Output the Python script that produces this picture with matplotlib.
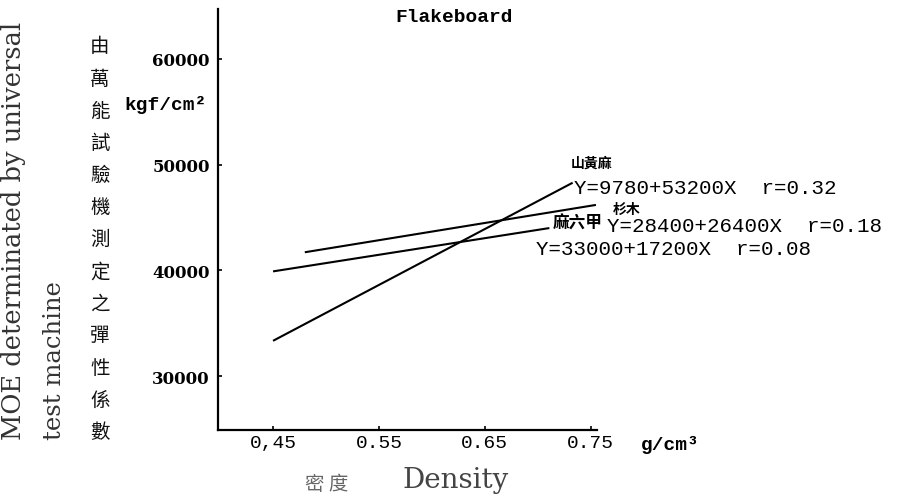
import matplotlib
matplotlib.use("Agg")
import matplotlib.pyplot as plt

plt.rcParams['font.family'] = ['DejaVu Serif', 'Noto Sans CJK TC']

# regression lines, end points (density g/cm3, MOE kgf/cm2)
species = ["山黃麻", "杉木", "麻六甲"]
equations = ["Y=9780+53200X  r=0.32",
             "Y=33000+17200X  r=0.08",
             "Y=28400+26400X  r=0.18"]
line_x = [[0.45, 0.733], [0.48, 0.755], [0.45, 0.711]]
line_y = [[33330, 48290], [41710, 46190], [39900, 44000]]

xticks = [0.45, 0.55, 0.65, 0.75]
xtick_labels = ["0,45", "0.55", "0.65", "0.75"]
yticks = [30000, 40000, 50000, 60000]
ytick_labels = ["30000", "40000", "50000", "60000"]

W, H = 899, 502
fig = plt.figure(figsize=(W / 100, H / 100), dpi=100)
ax = fig.add_axes([218 / W, 1 - 431 / H, (597 - 218) / W, (431 - 10) / H])


def px(x, y):
    return x / W, 1 - y / H


for xs, ys in zip(line_x, line_y):
    ax.plot(xs, ys, color="black", lw=1.5, solid_capstyle="butt")

ax.set_xlim(0.398, 0.756)
ax.set_ylim(24890, 64730)
ax.spines["top"].set_visible(False)
ax.spines["right"].set_visible(False)
for s in ("left", "bottom"):
    ax.spines[s].set_linewidth(1.6)
ax.set_xticks(xticks)
ax.set_xticklabels(xtick_labels, fontsize=14, family="Liberation Mono")
ax.set_yticks(yticks)
ax.set_yticklabels(ytick_labels, fontsize=12, fontweight="bold")
ax.tick_params(direction="in", length=3, width=1.2)
ax.tick_params(axis="x", pad=3)
ax.tick_params(axis="y", pad=6)

# title and units
fig.text(*px(454, 18), "Flakeboard", ha="center", va="center",
         fontsize=14, fontweight="bold", family="Liberation Mono")
fig.text(*px(166, 105), "kgf/cm²", ha="center", va="center",
         fontsize=14, fontweight="bold", family="Liberation Mono")
fig.text(*px(641, 445), "g/cm³", ha="left", va="center",
         fontsize=14, fontweight="bold", family="Liberation Mono")

# line labels
fig.text(*px(592, 164), species[0], ha="center", va="center",
         fontsize=10, family="Noto Sans CJK TC", fontweight="bold")
fig.text(*px(574, 188), equations[0], ha="left", va="center",
         fontsize=15, family="Liberation Mono")
fig.text(*px(627, 210), species[1], ha="center", va="center",
         fontsize=10, family="Noto Sans CJK TC", fontweight="bold")
fig.text(*px(578, 224), species[2], ha="center", va="center",
         fontsize=12, family="Noto Sans CJK TC", fontweight="bold")
fig.text(*px(607, 226), equations[2], ha="left", va="center",
         fontsize=15, family="Liberation Mono")
fig.text(*px(536, 250), equations[1], ha="left", va="center",
         fontsize=15, family="Liberation Mono")

# axis titles
fig.text(*px(14, 440), "MOE determinated by universal", rotation=90,
         ha="center", va="bottom", fontsize=18.5, color="#333333")
fig.text(*px(55, 440), "test machine", rotation=90,
         ha="center", va="bottom", fontsize=17.5, color="#333333")
for i, ch in enumerate("由萬能試驗機測定之彈性係數"):
    fig.text(*px(100, 47 + i * 32.1), ch, ha="center", va="center",
             fontsize=14, family="Noto Sans CJK TC", color="#111111")
fig.text(*px(327, 485), "密 度", ha="center", va="center",
         fontsize=14, family="Noto Sans CJK TC", color="#666666")
fig.text(*px(456, 481), "Density", ha="center", va="center",
         fontsize=20, color="#444444")

fig.savefig("out.png", dpi=100)
plt.close(fig)
